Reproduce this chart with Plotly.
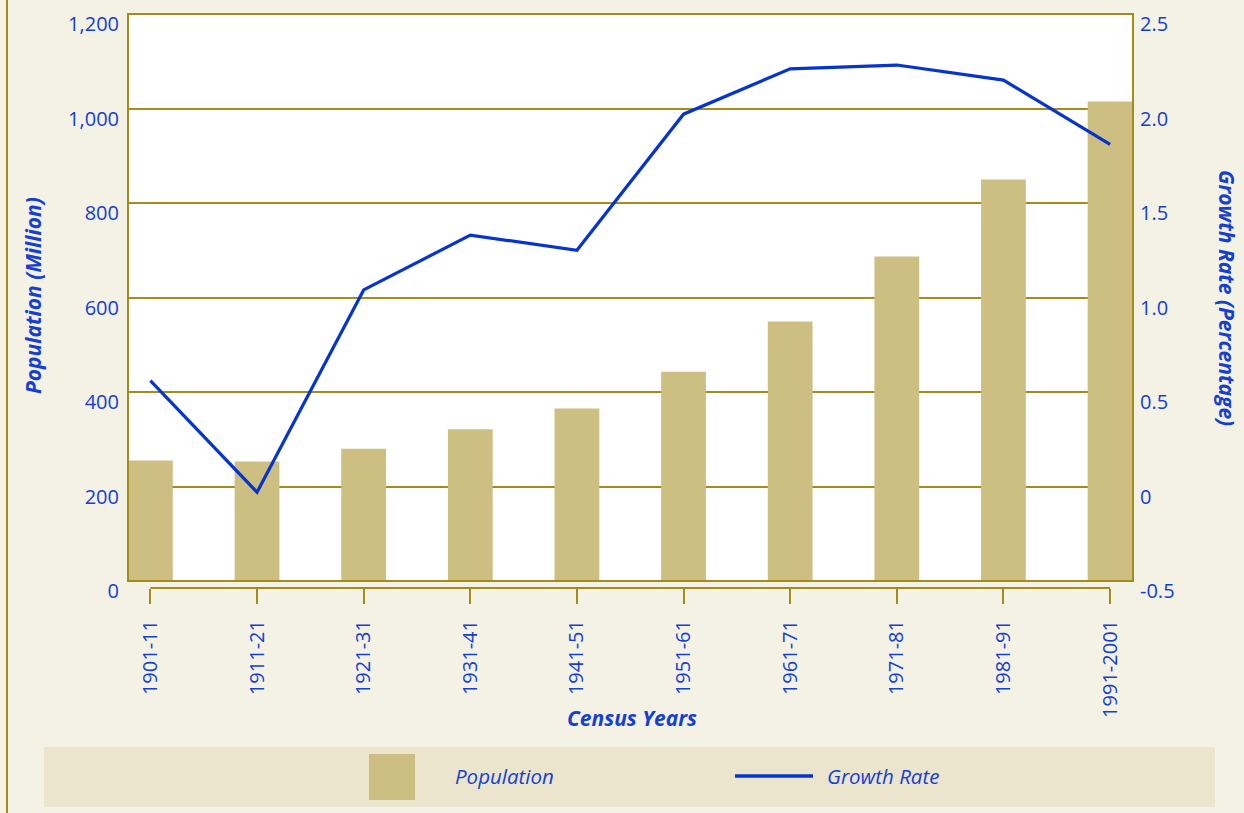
import plotly.graph_objects as go

# ---- data ----
census_years = ["1901-11", "1911-21", "1921-31", "1931-41", "1941-51",
                "1951-61", "1961-71", "1971-81", "1981-91", "1991-2001"]
population = [255, 253, 280, 321, 365, 443, 549, 687, 850, 1015]
growth_rate = [0.56, -0.03, 1.04, 1.33, 1.25, 1.97, 2.21, 2.23, 2.15, 1.81]
left_ticks = [0, 200, 400, 600, 800, 1000, 1200]
right_tickvals = [-0.5, 0, 0.5, 1.0, 1.5, 2.0, 2.5]
right_ticktext = ["-0.5", "0", "0.5", "1.0", "1.5", "2.0", "2.5"]

# ---- style ----
W, H = 1244, 813
BG = "#f4f1e5"
GOLD = "#a48c1c"
BAR = "#cdbf81"
BLUE = "#0634cf"
TXT = "#1440d2"
LEGBG = "#ebe5cd"
FONT = "Open Sans"

def px(x):
    return x / W

def py(y):
    return 1 - y / H

fig = go.Figure()
fig.add_trace(go.Bar(x=census_years, y=population, name="Population",
                     marker=dict(color=BAR, line=dict(width=0)), width=0.42,
                     yaxis="y"))
fig.add_trace(go.Scatter(x=census_years, y=growth_rate, name="Growth Rate",
                         mode="lines", line=dict(color=BLUE, width=3.2),
                         yaxis="y2"))

xdom = [px(128), px(1133)]
ydom = [py(581), py(14)]

fig.update_layout(
    width=W, height=H,
    margin=dict(l=0, r=0, t=0, b=0),
    paper_bgcolor=BG, plot_bgcolor="white",
    showlegend=False,
    template="none",
    font=dict(family=FONT, color=TXT, size=20),
    xaxis=dict(domain=xdom, anchor="free", position=py(588),
               range=[-0.21, 9.215], type="category",
               showline=False, showgrid=False, zeroline=False,
               ticks="outside", ticklen=15, tickwidth=2, tickcolor=GOLD,
               tickangle=-90, tickfont=dict(size=20, color=TXT),
               ticklabelstandoff=8, automargin=False),
    yaxis=dict(domain=ydom, anchor="x", range=[0, 1200],
               tickvals=left_ticks, tickformat=",d",
               showgrid=True, gridcolor=GOLD, gridwidth=1.5,
               showline=False, zeroline=False, ticks="",
               tickfont=dict(size=20, color=TXT),
               ticklabelstandoff=8, ticklabelshift=10,
               ticklabeloverflow="allow", automargin=False),
    yaxis2=dict(overlaying="y", side="right", anchor="x",
                range=[-0.5, 2.5], tickvals=right_tickvals,
                ticktext=right_ticktext, showgrid=False, zeroline=False,
                showline=False, ticks="",
                tickfont=dict(size=20, color=TXT),
                ticklabelstandoff=6, ticklabelshift=10,
                ticklabeloverflow="allow", automargin=False),
)

shapes = []
# plot frame
shapes.append(dict(type="rect", xref="paper", yref="paper",
                   x0=xdom[0], x1=xdom[1], y0=ydom[0], y1=ydom[1],
                   line=dict(color=GOLD, width=2), layer="above"))
# category axis line below plot, spanning first to last category
shapes.append(dict(type="line", xref="x", yref="paper",
                   x0=census_years[0], x1=census_years[-1],
                   y0=py(588), y1=py(588),
                   line=dict(color=GOLD, width=2)))
# page left border
shapes.append(dict(type="line", xref="paper", yref="paper",
                   x0=px(7), x1=px(7), y0=0, y1=1,
                   line=dict(color=GOLD, width=2)))
# legend box
shapes.append(dict(type="rect", xref="paper", yref="paper",
                   x0=px(44), x1=px(1215), y0=py(807), y1=py(747),
                   fillcolor=LEGBG, line=dict(width=0), layer="below"))
shapes.append(dict(type="rect", xref="paper", yref="paper",
                   x0=px(369), x1=px(415), y0=py(800), y1=py(754),
                   fillcolor=BAR, line=dict(width=0)))
shapes.append(dict(type="line", xref="paper", yref="paper",
                   x0=px(735), x1=px(813), y0=py(776), y1=py(776),
                   line=dict(color=BLUE, width=3.5)))
fig.update_layout(shapes=shapes)

title_font = dict(family=FONT, size=21, color=TXT, style="italic", weight="bold")
leg_font = dict(family=FONT, size=20.5, color=TXT, style="italic")
annotations = [
    dict(text="Population (Million)", x=px(33), y=py(296), textangle=-90,
         font=title_font),
    dict(text="Growth Rate (Percentage)", x=px(1227), y=py(298), textangle=90,
         font=title_font),
    dict(text="Census Years", x=px(632), y=py(718), font=title_font),
    dict(text="Population", x=px(453), y=py(776), xanchor="left",
         font=leg_font),
    dict(text="Growth Rate", x=px(825), y=py(776), xanchor="left",
         font=leg_font),
]
for a in annotations:
    a.update(xref="paper", yref="paper", showarrow=False)
    a.setdefault("xanchor", "center")
    a.setdefault("yanchor", "middle")
fig.update_layout(annotations=annotations)

fig.write_html("out.html", config={"displayModeBar": False},
               post_script="document.body.style.margin='0';"
                           "document.body.style.overflow='hidden';")
